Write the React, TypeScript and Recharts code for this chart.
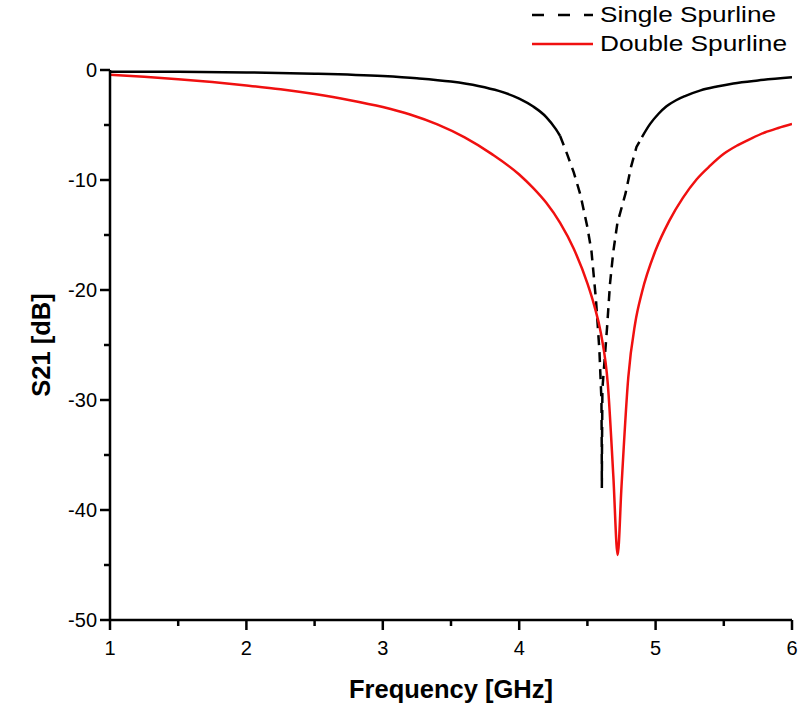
import { LineChart, Line, XAxis, YAxis, Legend } from "recharts";

// Single Spurline (black, dashed where the curve drops)
const singleFreq = [
  1.0, 1.5, 2.0, 2.5, 3.0, 3.25, 3.5, 3.7, 3.85, 4.0, 4.1, 4.2, 4.27, 4.3, 4.35, 4.4, 4.45,
  4.5, 4.53, 4.563, 4.588, 4.603, 4.605, 4.606, 4.607, 4.61, 4.643, 4.666, 4.69, 4.72, 4.78,
  4.82, 4.86, 4.9, 4.96, 5.02, 5.08, 5.15, 5.22, 5.33, 5.45, 5.57, 5.75, 6.0,
];
const singleS21 = [
  -0.15, -0.17, -0.22, -0.33, -0.55, -0.75, -1.05, -1.45, -1.9, -2.6, -3.3, -4.3, -5.4, -6.0,
  -7.6, -9.3, -11.4, -14.3, -16.5, -20.9, -25.5, -30.0, -34.0, -38.0, -34.5, -29.0, -23.6,
  -19.4, -16.5, -13.9, -11.2, -8.8, -7.0, -6.1, -4.9, -4.0, -3.3, -2.75, -2.35, -1.85, -1.5,
  -1.22, -0.95, -0.67,
];

// Double Spurline (red)
const doubleFreq = [
  1.0, 1.25, 1.5, 1.75, 2.0, 2.25, 2.5, 2.75, 3.0, 3.2, 3.4, 3.6, 3.8, 4.0, 4.1, 4.2, 4.3, 4.4,
  4.5, 4.55, 4.6, 4.65, 4.69, 4.722, 4.75, 4.8, 4.85, 4.9, 5.0, 5.1, 5.2, 5.3, 5.4, 5.5, 5.6,
  5.7, 5.8, 5.9, 6.0,
];
const doubleS21 = [
  -0.43, -0.61, -0.83, -1.09, -1.4, -1.75, -2.19, -2.72, -3.37, -4.05, -4.95, -6.13, -7.65,
  -9.5, -10.7, -12.1, -13.9, -16.25, -19.4, -21.4, -24.0, -28.6, -36.9, -44.09, -37.86,
  -27.91, -23.04, -20.2, -16.39, -13.71, -11.62, -9.95, -8.7, -7.62, -6.85, -6.23, -5.68,
  -5.27, -4.91,
];

const xTicks = [1, 1.5, 2, 2.5, 3, 3.5, 4, 4.5, 5, 5.5, 6];
const yTicks = [-50, -45, -40, -35, -30, -25, -20, -15, -10, -5, 0];
const seriesNames = ["Single Spurline", "Double Spurline"];

const single = singleFreq.map((f, i) => ({ f, v: singleS21[i] }));
const double = doubleFreq.map((f, i) => ({ f, v: doubleS21[i] }));
const dashFrom = singleFreq.indexOf(4.3);
const dashTo = singleFreq.indexOf(4.9);

const FONT = "'Liberation Sans', Arial, sans-serif";
const RED = "#f01010";

function XTick(props: any) {
  const { x, y, payload } = props;
  const major = Number.isInteger(payload.value);
  return (
    <g>
      <line x1={x} x2={x} y1={y} y2={y + (major ? 10 : 6)} stroke="#000" strokeWidth={2.5} />
      {major && (
        <text x={x} y={y + 35} textAnchor="middle" fontSize={20} fontFamily={FONT} fill="#000">
          {payload.value}
        </text>
      )}
    </g>
  );
}

function YTick(props: any) {
  const { x, y, payload } = props;
  const major = payload.value % 10 === 0;
  return (
    <g>
      <line x1={x} x2={x - (major ? 10 : 6)} y1={y} y2={y} stroke="#000" strokeWidth={2.5} />
      {major && (
        <text x={x - 13} y={y + 7} textAnchor="end" fontSize={20} fontFamily={FONT} fill="#000">
          {payload.value}
        </text>
      )}
    </g>
  );
}

function LegendBox() {
  return (
    <svg width={280} height={60} style={{ display: "block" }}>
      <line x1={12} x2={73} y1={15} y2={15} stroke="#000" strokeWidth={2.5} strokeDasharray="12 14" />
      <text x={80} y={22} fontSize={22} fontFamily={FONT} textLength={176} lengthAdjust="spacingAndGlyphs">
        {seriesNames[0]}
      </text>
      <line x1={12} x2={73} y1={44} y2={44} stroke={RED} strokeWidth={2.5} />
      <text x={80} y={51} fontSize={22} fontFamily={FONT} textLength={187} lengthAdjust="spacingAndGlyphs">
        {seriesNames[1]}
      </text>
    </svg>
  );
}

export default function App() {
  return (
    <div style={{ width: 800, height: 707, background: "#fff" }}>
      <style>{"body{margin:0}"}</style>
      <LineChart width={800} height={707} margin={{ top: 70, right: 8, bottom: 7, left: 0 }}>
        <XAxis
          dataKey="f"
          type="number"
          domain={[1, 6]}
          ticks={xTicks}
          allowDataOverflow
          height={80}
          tickSize={0}
          tickMargin={0}
          tickLine={false}
          tick={<XTick />}
          axisLine={{ stroke: "#000", strokeWidth: 2.5 }}
          label={{
            content: (p: any) => (
              <text
                x={p.viewBox.x + p.viewBox.width / 2}
                y={p.viewBox.y + 78}
                textAnchor="middle"
                fontSize={25.5}
                fontWeight="bold"
                fontFamily={FONT}
                fill="#000"
              >
                Frequency [GHz]
              </text>
            ),
          }}
        />
        <YAxis
          dataKey="v"
          type="number"
          domain={[-50, 0]}
          ticks={yTicks}
          allowDataOverflow
          width={110}
          tickSize={0}
          tickMargin={0}
          tickLine={false}
          tick={<YTick />}
          axisLine={{ stroke: "#000", strokeWidth: 2.5 }}
          label={{
            content: (p: any) => {
              const cx = p.viewBox.x + 50;
              const cy = p.viewBox.y + p.viewBox.height / 2;
              return (
                <text
                  x={cx}
                  y={cy}
                  transform={`rotate(-90 ${cx} ${cy})`}
                  textAnchor="middle"
                  fontSize={25.5}
                  fontWeight="bold"
                  fontFamily={FONT}
                  fill="#000"
                >
                  S21 [dB]
                </text>
              );
            },
          }}
        />
        <Legend
          layout="vertical"
          align="center"
          verticalAlign="middle"
          wrapperStyle={{ top: 0, left: 520, width: 280, height: 60 }}
          content={() => <LegendBox />}
        />
        <Line
          data={single.slice(0, dashFrom + 1)}
          dataKey="v"
          name={seriesNames[0]}
          type="monotone"
          stroke="#000"
          strokeWidth={2.5}
          dot={false}
          isAnimationActive={false}
        />
        <Line
          data={single.slice(dashFrom, dashTo + 1)}
          dataKey="v"
          name={seriesNames[0] + " (steep)"}
          legendType="none"
          type="linear"
          stroke="#000"
          strokeWidth={2.5}
          strokeDasharray="10 7"
          dot={false}
          isAnimationActive={false}
        />
        <Line
          data={single.slice(dashTo)}
          dataKey="v"
          name={seriesNames[0] + " (tail)"}
          legendType="none"
          type="monotone"
          stroke="#000"
          strokeWidth={2.5}
          dot={false}
          isAnimationActive={false}
        />
        <Line
          data={double}
          dataKey="v"
          name={seriesNames[1]}
          type="monotone"
          stroke={RED}
          strokeWidth={2.5}
          dot={false}
          isAnimationActive={false}
        />
      </LineChart>
    </div>
  );
}
